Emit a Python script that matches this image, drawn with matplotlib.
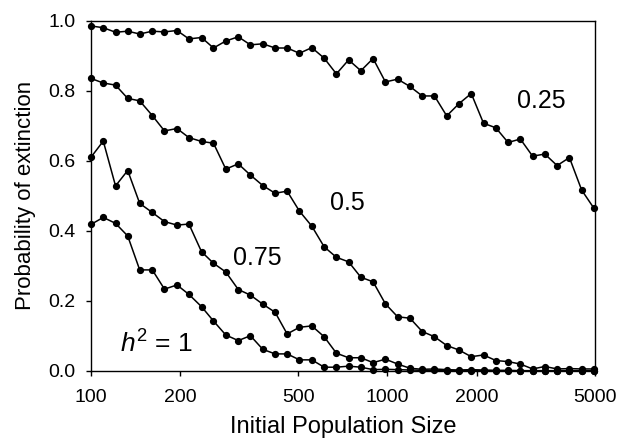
import matplotlib
matplotlib.use("Agg")
import matplotlib.pyplot as plt

plt.rcParams['font.family'] = ['Liberation Sans', 'DejaVu Sans']
plt.rcParams['mathtext.fontset'] = 'custom'
plt.rcParams['mathtext.rm'] = 'Liberation Sans'
plt.rcParams['mathtext.it'] = 'Liberation Sans:italic'

pop_size = [100, 110, 121, 133, 146, 161, 177, 195, 214, 236, 259, 285, 314, 345,
            380, 418, 459, 505, 556, 612, 673, 740, 814, 895, 985, 1083, 1192,
            1311, 1442, 1586, 1745, 1919, 2111, 2323, 2555, 2810, 3091, 3400,
            3740, 4114, 4526, 4979]

h2_025 = [0.985, 0.980, 0.967, 0.970, 0.962, 0.970, 0.968, 0.972, 0.948, 0.952,
          0.922, 0.942, 0.954, 0.931, 0.934, 0.922, 0.922, 0.907, 0.923, 0.893,
          0.848, 0.888, 0.857, 0.892, 0.825, 0.833, 0.812, 0.785, 0.785, 0.728,
          0.763, 0.792, 0.707, 0.694, 0.652, 0.662, 0.613, 0.619, 0.586, 0.609,
          0.516, 0.464]

h2_05 = [0.835, 0.822, 0.816, 0.778, 0.771, 0.729, 0.685, 0.692, 0.666, 0.655,
         0.650, 0.576, 0.591, 0.559, 0.529, 0.507, 0.513, 0.456, 0.413, 0.354,
         0.324, 0.311, 0.267, 0.254, 0.191, 0.154, 0.150, 0.112, 0.097, 0.072,
         0.059, 0.040, 0.045, 0.029, 0.026, 0.019, 0.005, 0.012, 0.005, 0.006,
         0.005, 0.005]

h2_075 = [0.610, 0.656, 0.528, 0.572, 0.478, 0.452, 0.426, 0.416, 0.419, 0.340,
          0.307, 0.282, 0.232, 0.216, 0.190, 0.167, 0.105, 0.124, 0.128, 0.097,
          0.050, 0.037, 0.037, 0.023, 0.033, 0.019, 0.007, 0.004, 0.005, 0.003,
          0.002, 0.003, 0.002, 0.001, 0.001, 0.0, 0.0, 0.0, 0.0, 0.0, 0.0, 0.0]

h2_1 = [0.418, 0.438, 0.421, 0.385, 0.288, 0.288, 0.233, 0.245, 0.218, 0.183,
        0.142, 0.102, 0.086, 0.100, 0.061, 0.048, 0.048, 0.031, 0.031, 0.010,
        0.010, 0.013, 0.010, 0.003, 0.004, 0.003, 0.002, 0.001, 0.001, 0.0,
        0.0, 0.0, 0.0, 0.0, 0.0, 0.0, 0.0, 0.0, 0.0, 0.0, 0.0, 0.0]

series = [h2_025, h2_05, h2_075, h2_1]

x_ticks = [100, 200, 500, 1000, 2000, 5000]
x_ticklabels = ['100', '200', '500', '1000', '2000', '5000']
y_ticks = [0.0, 0.2, 0.4, 0.6, 0.8, 1.0]

fig = plt.figure(figsize=(6.18, 4.40), dpi=100)
ax = fig.add_axes([91/618, 1 - 370.7/440, (594.5 - 91)/618, (370.7 - 20.7)/440])

for s in series:
    ax.plot(pop_size, s, color='black', lw=1.1, marker='o', ms=4.2,
            clip_on=False, zorder=3)

ax.set_xscale('log')
ax.set_xlim(100, 5000)
ax.set_ylim(0, 1.0)
ax.set_xticks(x_ticks)
ax.set_xticklabels(x_ticklabels)
ax.minorticks_off()
ax.set_yticks(y_ticks)
ax.set_yticklabels([f'{v:.1f}' for v in y_ticks])
ax.tick_params(direction='out', length=3.6, width=1, labelsize=14)
ax.tick_params(axis='y', pad=7.5)
ax.tick_params(axis='x', pad=9.5)
for sp in ax.spines.values():
    sp.set_linewidth(1)

ax.set_xlabel('Initial Population Size', fontsize=17, labelpad=7)
ax.set_ylabel('Probability of extinction', fontsize=16, labelpad=9)

ax.text(3300, 0.77, '0.25', fontsize=18, ha='center', va='center')
ax.text(734, 0.479, '0.5', fontsize=18, ha='center', va='center')
ax.text(363, 0.321, '0.75', fontsize=18, ha='center', va='center')
ax.text(125, 0.051, r'$\mathit{h}^{2}$ = 1', fontsize=19, ha='left', va='baseline')

fig.savefig('out.png', dpi=100)
